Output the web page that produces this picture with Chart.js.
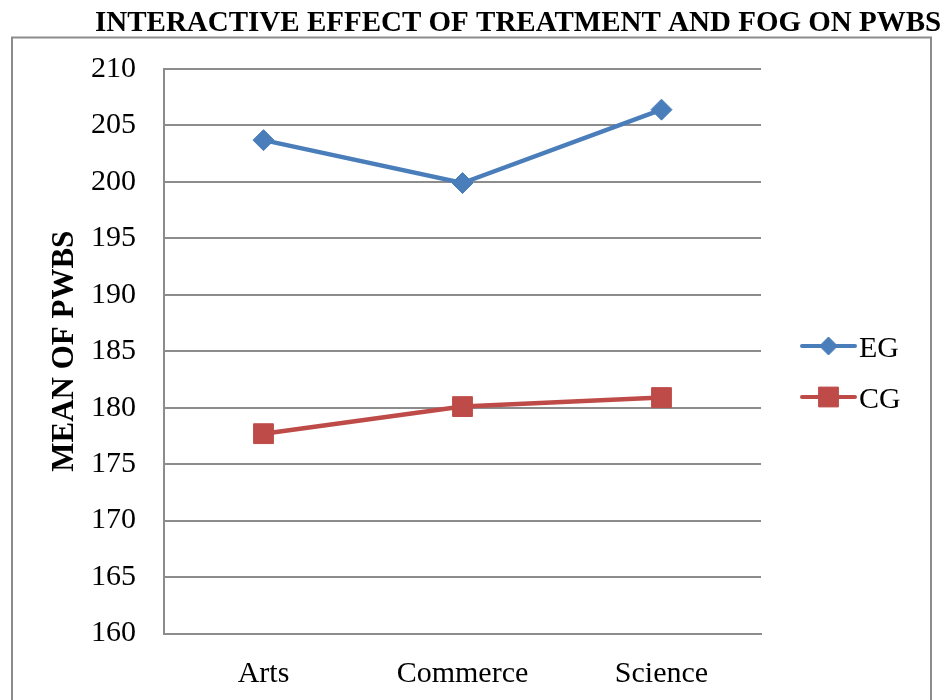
<!DOCTYPE html>
<html>
<head>
<meta charset="utf-8">
<title>Interactive effect of treatment and FOG on PWBS</title>
<script src="https://cdn.jsdelivr.net/npm/chart.js@4/dist/chart.umd.min.js"></script>
<style>
  html, body { margin: 0; padding: 0; background: #ffffff; }
  #wrap { width: 946px; height: 700px; }
</style>
</head>
<body>
<div id="wrap"><canvas id="chart" width="946" height="700"></canvas></div>
<script>
// Faculty of study (x categories)
const categories = ['Arts', 'Commerce', 'Science'];
// Mean PWBS scores per group
const egMeans = [203.7, 199.9, 206.4];
const cgMeans = [177.7, 180.1, 180.9];
// Y axis tick values
const yTickValues = [160, 165, 170, 175, 180, 185, 190, 195, 200, 205, 210];

const chartTitle = 'INTERACTIVE EFFECT OF TREATMENT AND FOG ON PWBS';
const yAxisTitle = 'MEAN OF PWBS';

const SERIF = '"Liberation Serif", "Times New Roman", serif';
const GRID = '#8c8c8c';

Chart.defaults.font.family = SERIF;
Chart.defaults.color = '#000000';

// Title, outer frame and legend drawn on top of the chart
const decorations = {
  id: 'decorations',
  afterDraw(chart) {
    const ctx = chart.ctx;
    ctx.save();
    // outer frame (left, top, right edges)
    ctx.strokeStyle = GRID;
    ctx.lineWidth = 2;
    ctx.beginPath();
    ctx.moveTo(12, 710);
    ctx.lineTo(12, 37.5);
    ctx.lineTo(931, 37.5);
    ctx.lineTo(931, 710);
    ctx.stroke();

    // chart title
    ctx.fillStyle = '#000000';
    ctx.font = 'bold 29px ' + SERIF;
    ctx.textAlign = 'left';
    ctx.textBaseline = 'alphabetic';
    ctx.fillText(chartTitle, 95, 30.5);

    // legend entries
    const rows = [346, 397];
    chart.data.datasets.forEach((ds, i) => {
      const y = rows[i];
      ctx.strokeStyle = ds.borderColor;
      ctx.lineWidth = 4;
      ctx.lineCap = 'round';
      ctx.beginPath();
      ctx.moveTo(802, y);
      ctx.lineTo(855, y);
      ctx.stroke();
      ctx.lineCap = 'butt';
      ctx.fillStyle = ds.pointBackgroundColor;
      ctx.strokeStyle = ds.pointBorderColor;
      ctx.lineWidth = 1;
      Chart.helpers.drawPoint(ctx, {
        pointStyle: ds.pointStyle,
        rotation: 0,
        radius: ds.legendRadius,
        borderWidth: 1
      }, 828.5, y);
      ctx.fillStyle = '#000000';
      ctx.font = '30px ' + SERIF;
      ctx.textAlign = 'left';
      ctx.textBaseline = 'alphabetic';
      ctx.fillText(ds.label, 859, y + 11);
    });
    ctx.restore();
  }
};

new Chart(document.getElementById('chart'), {
  type: 'line',
  data: {
    labels: categories,
    datasets: [
      {
        label: 'EG',
        data: egMeans,
        borderColor: '#4A7EBB',
        backgroundColor: '#4A7EBB',
        pointBackgroundColor: '#4A7EBB',
        pointBorderColor: '#4A7EBB',
        borderWidth: 4.5,
        pointStyle: 'rectRot',
        pointRadius: 10.5,
        pointBorderWidth: 1,
        legendRadius: 9,
        tension: 0
      },
      {
        label: 'CG',
        data: cgMeans,
        borderColor: '#BE4B48',
        backgroundColor: '#BE4B48',
        pointBackgroundColor: '#BE4B48',
        pointBorderColor: '#BE4B48',
        borderWidth: 4.5,
        pointStyle: 'rect',
        pointRadius: 14,
        pointBorderWidth: 1,
        legendRadius: 14,
        tension: 0
      }
    ]
  },
  options: {
    responsive: false,
    animation: false,
    layout: { padding: { left: 0, top: 69, right: 185, bottom: 0 } },
    plugins: {
      legend: { display: false },
      title: { display: false },
      tooltip: { enabled: false }
    },
    scales: {
      x: {
        offset: true,
        grid: { display: false, drawTicks: false },
        border: { display: true, color: GRID, width: 2 },
        ticks: { font: { size: 30 }, color: '#000000', padding: 23, maxRotation: 0 },
        afterFit(scale) {
          scale.height = 66.5;
          scale.paddingLeft = 0;
          scale.paddingRight = 0;
        }
      },
      y: {
        min: 160,
        max: 210,
        afterBuildTicks(scale) {
          scale.ticks = yTickValues.map(v => ({ value: v }));
        },
        grid: { color: GRID, lineWidth: 2, drawTicks: false },
        border: { display: true, color: GRID, width: 2 },
        ticks: { font: { size: 30 }, color: '#000000', padding: 28 },
        title: {
          display: true,
          text: yAxisTitle,
          font: { size: 31, weight: 'bold' },
          color: '#000000',
          padding: { top: 46, bottom: 0 }
        },
        afterFit(scale) {
          scale.width = 164;
          scale.paddingTop = 0;
          scale.paddingBottom = 0;
        }
      }
    }
  },
  plugins: [decorations]
});
</script>
</body>
</html>
